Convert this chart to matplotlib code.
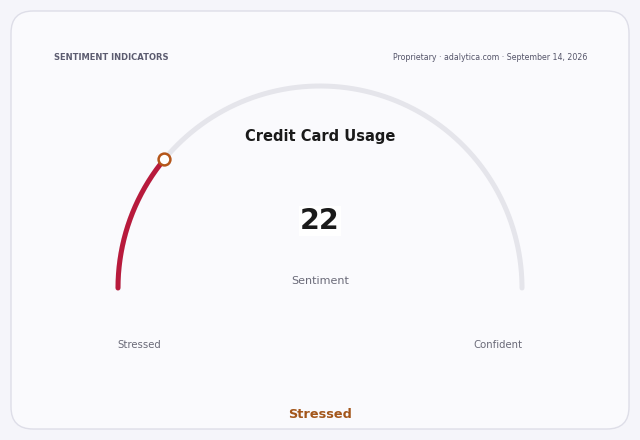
import matplotlib.pyplot as plt
import numpy as np
from matplotlib.patches import FancyBboxPatch

# gauge data
value = 22
vmin, vmax = 0, 100
title = "Credit Card Usage"
subtitle = "Sentiment"
low_label, high_label = "Stressed", "Confident"
status = "Stressed"
header_left = "SENTIMENT INDICATORS"
header_right = "Proprietary · adalytica.com · September 14, 2026"

W, H = 640, 440
fig = plt.figure(figsize=(W / 100, H / 100), dpi=100)
fig.patch.set_facecolor('#f5f5fa')
ax = fig.add_axes([0, 0, 1, 1])
ax.set_xlim(0, W)
ax.set_ylim(H, 0)
ax.axis('off')

# card
card = FancyBboxPatch((11, 11), 618, 418, boxstyle="round,pad=0,rounding_size=22",
                      fc='#fafafd', ec='#dedee8', lw=1.0)
ax.add_patch(card)

# gauge geometry (pixels)
cx, cy, r = 320, 288, 202

def arc(a0, a1, n=200):
    t = np.radians(np.linspace(a0, a1, n))
    return cx + r * np.cos(t), cy - r * np.sin(t)

frac = (value - vmin) / (vmax - vmin)
ang = 180 - frac * 180

x, y = arc(180, 0)
ax.plot(x, y, color='#e5e5eb', lw=3.6, solid_capstyle='round')
x, y = arc(180, ang)
ax.plot(x, y, color='#b81a3c', lw=3.6, solid_capstyle='round')
mx, my = cx + r * np.cos(np.radians(ang)), cy - r * np.sin(np.radians(ang))
ax.plot(mx, my, 'o', ms=8.5, mfc='white', mec='#b5561a', mew=1.8)

# texts
ax.text(54, 58, header_left, fontsize=6.0, fontweight='bold', color='#5c5c70',
        ha='left', va='center')
ax.text(587, 58, header_right, fontsize=5.7, color='#55556a', ha='right', va='center')
ax.text(320, 137, title, fontsize=10.5, fontweight='bold', color='#1a1a1a',
        ha='center', va='center')
ax.text(320, 221, str(value), fontsize=20.5, fontweight='bold', color='#1a1a1a',
        ha='center', va='center',
        bbox=dict(boxstyle='square,pad=0.05', fc='white', ec='none'))
ax.text(320, 281, subtitle, fontsize=8.0, color='#6a6a78', ha='center', va='center')
ax.text(139, 345, low_label, fontsize=7.3, color='#6a6a78', ha='center', va='center')
ax.text(498, 345, high_label, fontsize=7.3, color='#6a6a78', ha='center', va='center')
ax.text(320, 414, status, fontsize=9.3, fontweight='bold', color='#a3561a',
        ha='center', va='center')

fig.savefig('out.png', dpi=100, facecolor=fig.get_facecolor())
